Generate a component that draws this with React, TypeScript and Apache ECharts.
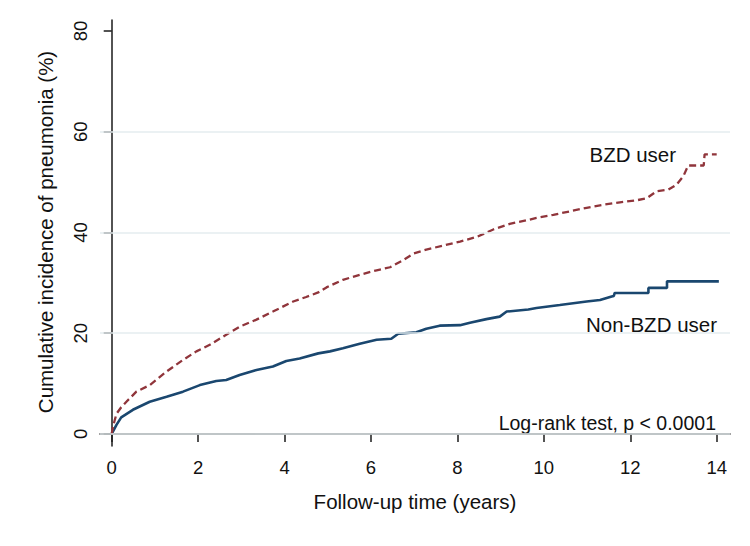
import React, { useEffect, useRef } from "react";
import * as echarts from "echarts";

// BZD user (red dashed) cumulative incidence (%)
const bzdTime = [0, 0.03, 0.11, 0.22, 0.34, 0.57, 0.88, 1.27, 1.65, 1.96, 2.27, 2.65, 2.96, 3.35, 3.73, 4.2, 4.5, 4.78, 4.97, 5.35, 5.74, 6.13, 6.44, 6.74, 6.98, 7.28, 7.67, 8.06, 8.44, 8.83, 9.21, 9.64, 9.83, 10.22, 10.6, 10.99, 11.37, 11.76, 12.15, 12.38, 12.61, 12.88, 13.07, 13.23, 13.34, 13.7, 13.72, 14.0];
const bzdValue = [0, 1.5, 4.0, 5.3, 6.4, 8.4, 9.7, 12.4, 14.7, 16.4, 17.7, 19.7, 21.3, 22.7, 24.3, 26.3, 27.2, 28.1, 29.1, 30.6, 31.6, 32.5, 33.1, 34.5, 35.8, 36.6, 37.4, 38.2, 39.1, 40.6, 41.7, 42.5, 42.9, 43.5, 44.2, 44.9, 45.5, 46.0, 46.4, 46.8, 48.2, 48.5, 49.5, 51.2, 53.3, 53.3, 55.5, 55.5];

// Non-BZD user (blue solid) cumulative incidence (%)
const nonTime = [0, 0.11, 0.22, 0.49, 0.88, 1.27, 1.65, 2.04, 2.42, 2.65, 2.96, 3.35, 3.73, 4.04, 4.35, 4.78, 5.05, 5.35, 5.74, 6.13, 6.47, 6.63, 7.05, 7.28, 7.59, 8.06, 8.29, 8.67, 8.98, 9.14, 9.64, 9.83, 10.37, 10.99, 11.3, 11.57, 11.62, 11.64, 12.42, 12.42, 12.85, 12.85, 14.05];
const nonValue = [0, 1.8, 3.3, 4.8, 6.4, 7.4, 8.4, 9.7, 10.5, 10.7, 11.7, 12.7, 13.4, 14.5, 15.0, 16.0, 16.4, 17.0, 17.9, 18.7, 18.9, 19.9, 20.2, 20.9, 21.5, 21.6, 22.1, 22.8, 23.3, 24.3, 24.7, 25.0, 25.6, 26.3, 26.6, 27.3, 27.4, 28.0, 28.0, 29.0, 29.0, 30.3, 30.3];

const xTicks = [0, 2, 4, 6, 8, 10, 12, 14];
const yTicks = [0, 20, 40, 60, 80];
const gridValues = [0, 20, 40, 60];

const xTitle = "Follow-up time (years)";
const yTitle = "Cumulative incidence of pneumonia (%)";
const bzdLabel = "BZD user";
const nonLabel = "Non-BZD user";
const testLabel = "Log-rank test, p < 0.0001";

const FONT = "'Liberation Sans', Arial, sans-serif";

export default function App() {
  const ref = useRef<HTMLDivElement>(null);
  useEffect(() => {
    if (!ref.current) return;
    const chart = echarts.init(ref.current, undefined, { renderer: "svg" });
    const zip = (a: number[], b: number[]) => a.map((t, i) => [t, b[i]]);
    chart.setOption({
      animation: false,
      backgroundColor: "#ffffff",
      grid: { left: 100, right: 20, top: 20, bottom: 100 },
      xAxis: {
        type: "value",
        min: -0.271,
        max: 14.308,
        axisLine: { show: true, lineStyle: { color: "#1a1a1a", width: 1.5 } },
        axisTick: { show: true, length: 8, customValues: xTicks, lineStyle: { color: "#1a1a1a", width: 1.5 } },
        axisLabel: { customValues: xTicks, margin: 12, fontSize: 18.5, color: "#111", fontFamily: FONT },
        splitLine: { show: false },
      },
      yAxis: {
        type: "value",
        min: -2.39,
        max: 82.19,
        axisLine: { show: true, lineStyle: { color: "#1a1a1a", width: 1.5 } },
        axisTick: { show: true, length: 8, customValues: yTicks, lineStyle: { color: "#1a1a1a", width: 1.5 } },
        axisLabel: { customValues: yTicks, margin: 10, rotate: 90, fontSize: 18.5, color: "#111", fontFamily: FONT },
        splitLine: { show: false },
      },
      series: [
        {
          type: "line",
          data: [],
          z: 1,
          silent: true,
          markLine: {
            silent: true,
            symbol: ["none", "none"],
            label: { show: false },
            lineStyle: { color: "#e4ecef", width: 1.5, type: "solid" },
            data: gridValues.map((v) => ({ yAxis: v })),
          },
        },
        {
          name: nonLabel,
          type: "line",
          z: 3,
          data: zip(nonTime, nonValue),
          showSymbol: false,
          symbol: "none",
          lineStyle: { color: "#1a476f", width: 2.6 },
        },
        {
          name: bzdLabel,
          type: "line",
          z: 3,
          data: zip(bzdTime, bzdValue),
          showSymbol: false,
          symbol: "none",
          lineStyle: { color: "#90353b", width: 2.3, type: [7, 4] },
        },
      ],
      graphic: [
        {
          type: "text",
          x: 415,
          y: 501,
          style: { text: xTitle, fontSize: 20.5, fontFamily: FONT, fill: "#111", align: "center", verticalAlign: "middle" },
        },
        {
          type: "text",
          x: 45,
          y: 232,
          rotation: Math.PI / 2,
          style: { text: yTitle, fontSize: 20.5, fontFamily: FONT, fill: "#111", align: "center", verticalAlign: "middle" },
        },
        {
          type: "text",
          x: 589.5,
          y: 154.5,
          style: { text: bzdLabel, fontSize: 20.5, fontFamily: FONT, fill: "#111", align: "left", verticalAlign: "middle" },
        },
        {
          type: "text",
          x: 586,
          y: 324.2,
          style: { text: nonLabel, fontSize: 20.5, fontFamily: FONT, fill: "#111", align: "left", verticalAlign: "middle" },
        },
        {
          type: "text",
          x: 716,
          y: 422.5,
          style: { text: testLabel, fontSize: 19.5, fontFamily: FONT, fill: "#111", align: "right", verticalAlign: "middle" },
        },
      ],
    });
    return () => chart.dispose();
  }, []);
  return (
    <div
      ref={ref}
      style={{ position: "fixed", left: 0, top: 0, width: 750, height: 546, background: "#fff" }}
    />
  );
}
